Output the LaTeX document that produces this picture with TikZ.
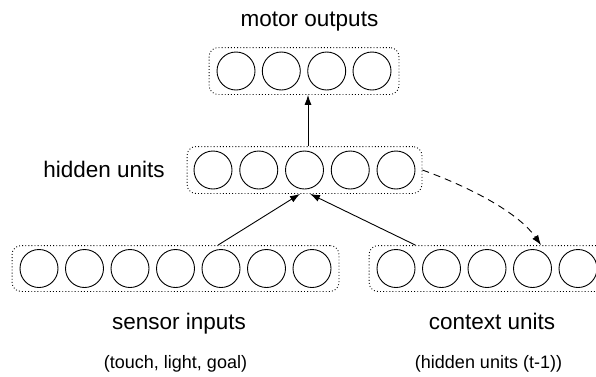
\documentclass[tikz,border=0pt]{standalone}
\usepackage{fontspec}
\setmainfont{Liberation Sans}
\usetikzlibrary{arrows.meta,fit}
\begin{document}
\begin{tikzpicture}[x=1pt,y=-1pt,
  unit/.style={circle,draw,line width=0.9pt,minimum size=38pt,inner sep=0pt},
  group/.style={draw,line width=0.9pt,dash pattern=on 0.9pt off 2.2pt,rounded corners=9pt,inner xsep=7.5pt,inner ysep=4pt},
  lbl/.style={font=\fontsize{22.5}{27}\selectfont,anchor=base,inner sep=0pt},
  sublbl/.style={font=\fontsize{18}{22}\selectfont,anchor=base,inner sep=0pt},
  conn/.style={line width=0.9pt,-{Latex[length=10pt,width=7pt]}},
  feedback/.style={line width=0.9pt,dash pattern=on 7pt off 5pt,-{Latex[length=10pt,width=7pt]}},
]
\useasboundingbox (0,0) rectangle (596,376);
% motor outputs
\foreach \i/\x in {1/236,2/281.3,3/326.7,4/372}
  \node[unit] (m\i) at (\x,71) {};
% hidden units
\foreach \i/\x in {1/213,2/258.75,3/304.5,4/350.25,5/396}
  \node[unit] (h\i) at (\x,170) {};
% sensor inputs
\foreach \i/\x in {1/39,2/84.5,3/130,4/175.5,5/221,6/266.5,7/312}
  \node[unit] (s\i) at (\x,268.5) {};
% context units
\foreach \i/\x in {1/396,2/441.5,3/487,4/532.5,5/578}
  \node[unit] (c\i) at (\x,268.5) {};
% groups
\node[group,fit=(m1)(m4)] (mg) {};
\node[group,fit=(h1)(h5),inner xsep=6.5pt] (hg) {};
\node[group,fit=(s1)(s7),inner ysep=3.5pt] (sg) {};
\node[group,fit=(c1)(c5),inner ysep=3.5pt] (cg) {};
% labels
\node[lbl] (tm) at (309.5,26) {motor outputs};
\node[lbl] (th) at (104,177.7) {hidden units};
\node[lbl] (ts) at (179,329) {sensor inputs};
\node[lbl] (tc) at (492,329) {context units};
\node[sublbl] (ts2) at (175.5,368.5) {(touch, light, goal)};
\node[sublbl] (tc2) at (488.5,368.5) {(hidden units (t-1))};
% connectors
\draw[conn] ([xshift=3.5pt]h3.center |- hg.north) -- ([xshift=3.5pt]h3.center |- mg.south);
\draw[conn] ([xshift=-3pt]s5.center |- sg.north) -- ([xshift=-4.5pt]h3.center |- hg.south);
\draw[conn] (c1.east |- cg.north) -- ([xshift=5.5pt]h3.center |- hg.south);
\draw[feedback] (hg.east) .. controls +(47,17) and +(-23,-33) .. ([xshift=8.5pt]c4.center |- cg.north);
\end{tikzpicture}
\end{document}
